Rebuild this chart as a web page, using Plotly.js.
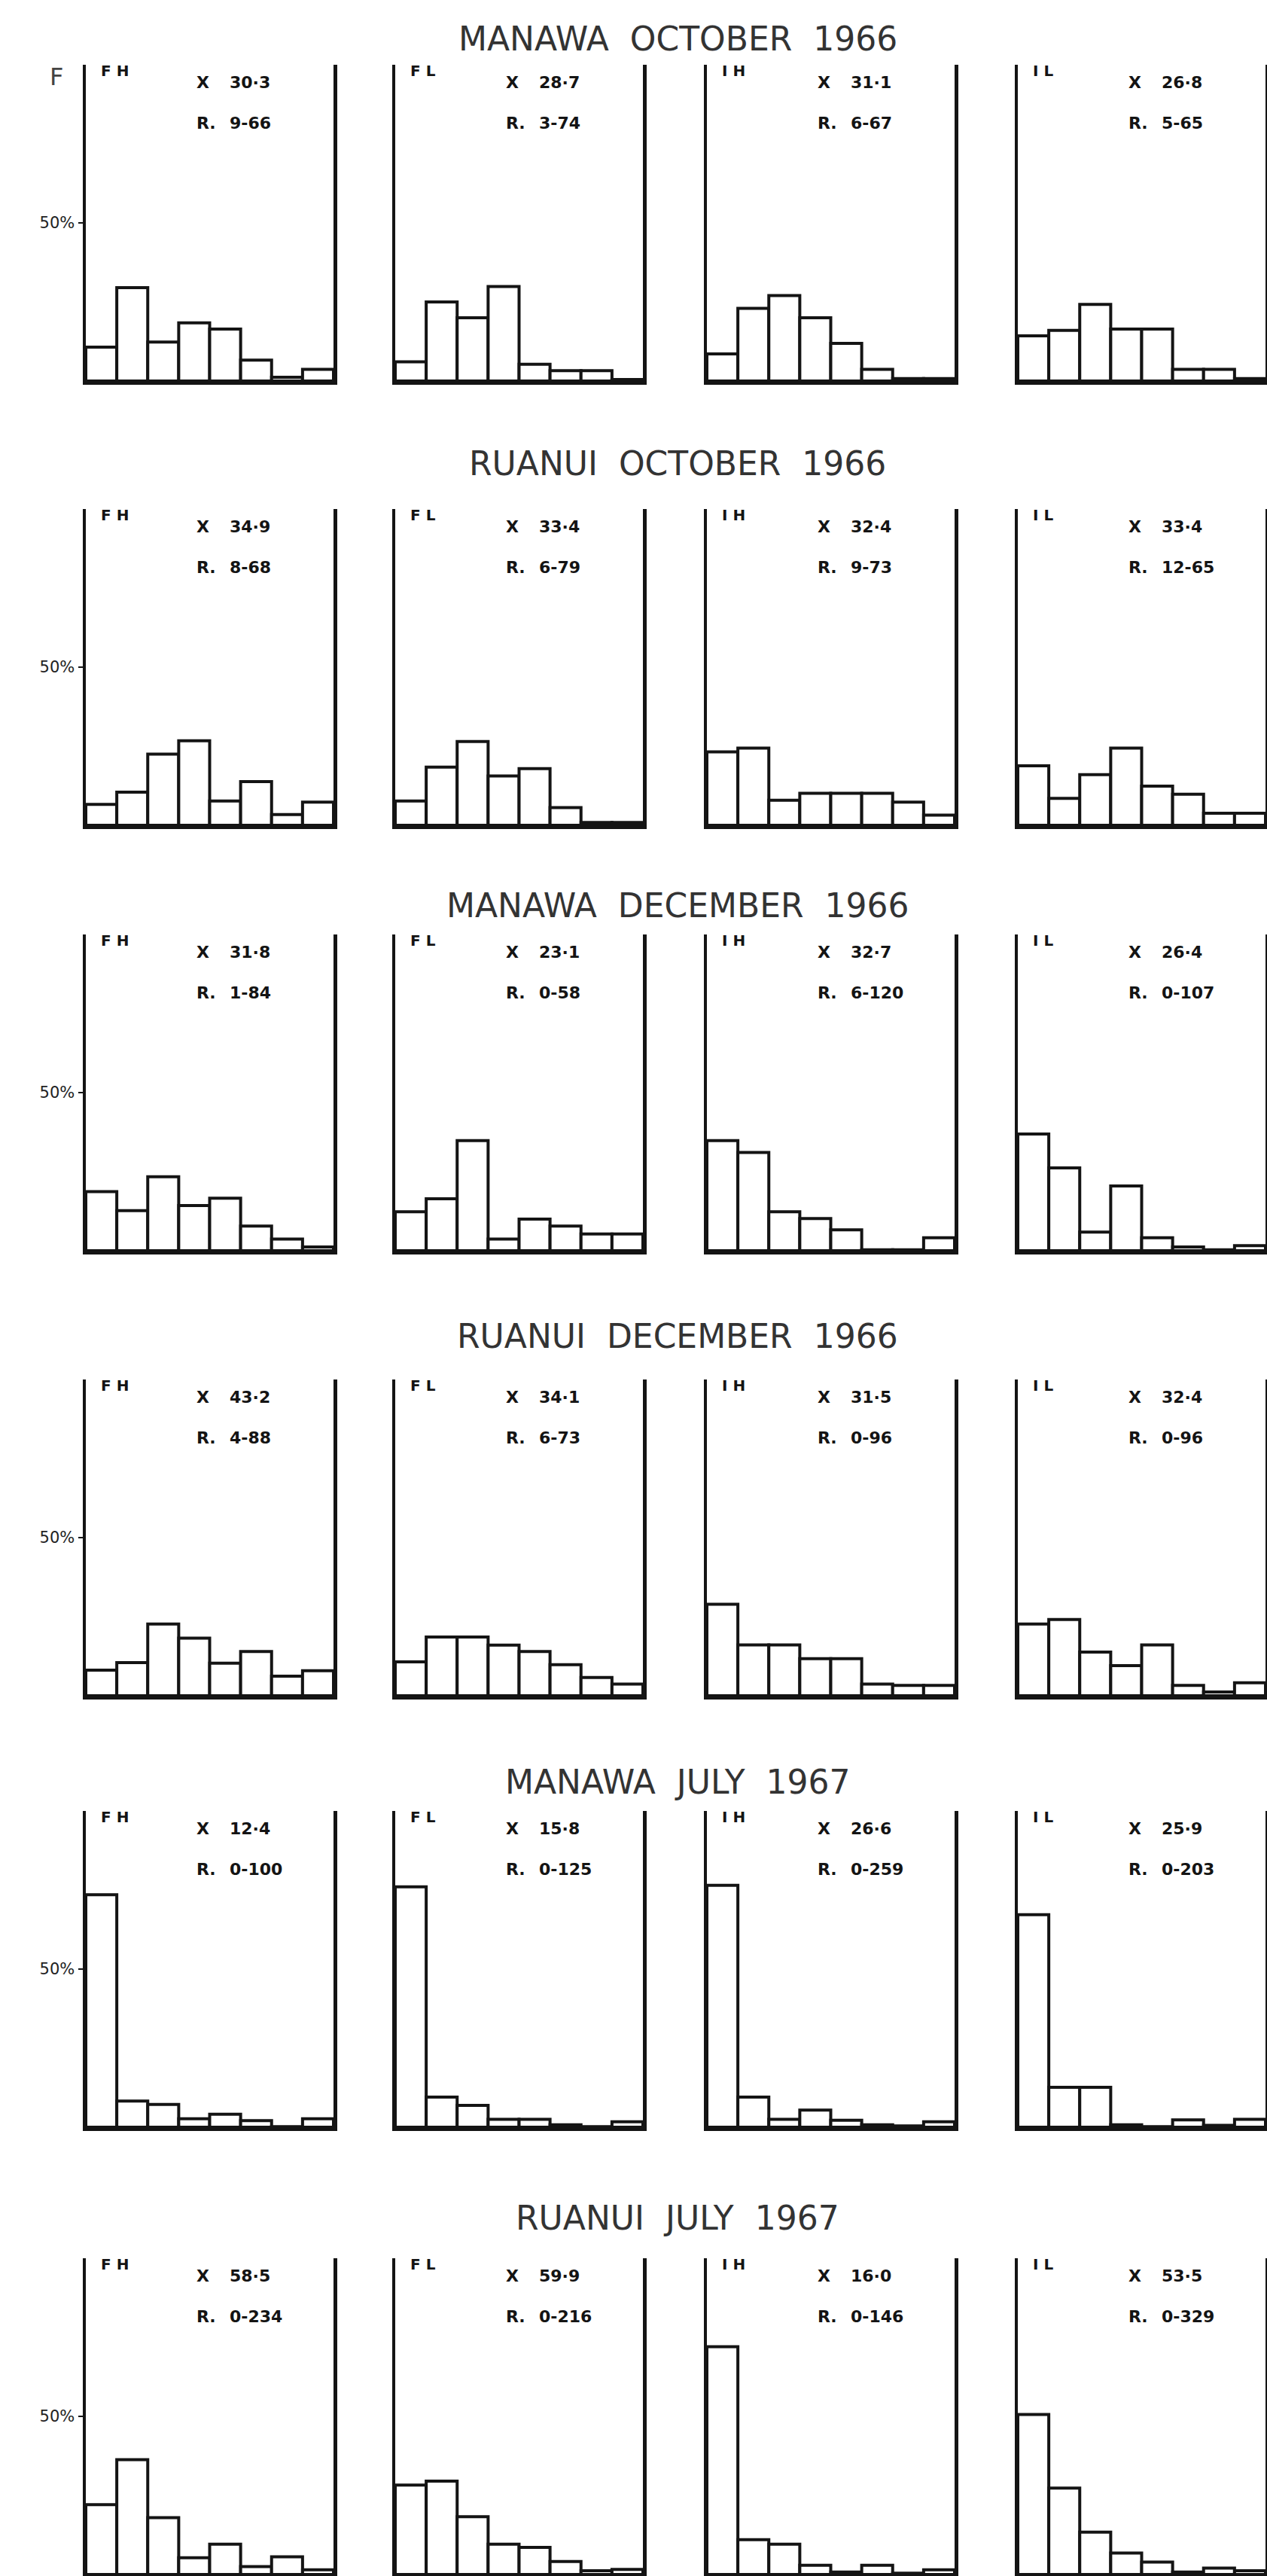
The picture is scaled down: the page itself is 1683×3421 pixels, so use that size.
<!DOCTYPE html>
<html>
<head>
<meta charset="utf-8">
<script src="https://cdn.plot.ly/plotly-3.0.1.min.js"></script>
<style>
  html, body { margin: 0; padding: 0; background: #ffffff; }
  #chart { width: 1683px; height: 3421px; }
</style>
</head>
<body>
<div id="chart"></div>
<script>
// ---------------- DATA ----------------
const sizeClasses = [1, 2, 3, 4, 5, 6, 7, 8];
const panelCodes = ['FH', 'FL', 'IH', 'IL'];
const rowTitles = [
  'MANAWA\u00a0\u00a0OCTOBER\u00a0\u00a01966',
  'RUANUI\u00a0\u00a0OCTOBER\u00a0\u00a01966',
  'MANAWA\u00a0\u00a0DECEMBER\u00a0\u00a01966',
  'RUANUI\u00a0\u00a0DECEMBER\u00a0\u00a01966',
  'MANAWA\u00a0\u00a0JULY\u00a0\u00a01967',
  'RUANUI\u00a0\u00a0JULY\u00a0\u00a01967'
];

// percentage frequency per size class (estimated from the figure)
const manawaOct66_FH = [10.7, 29.5, 12.3, 18.4, 16.4, 6.6, 1.2, 3.7];
const manawaOct66_FL = [6.1, 25.0, 20.0, 29.9, 5.3, 3.3, 3.3, 0.5];
const manawaOct66_IH = [8.6, 23.0, 27.0, 20.0, 11.9, 3.7, 0.8, 0.8];
const manawaOct66_IL = [14.3, 16.0, 24.2, 16.4, 16.4, 3.7, 3.7, 0.8];

const ruanuiOct66_FH = [6.6, 10.5, 22.5, 26.7, 7.7, 13.8, 3.4, 7.3];
const ruanuiOct66_FL = [7.7, 18.4, 26.5, 15.6, 17.9, 5.6, 0.9, 0.9];
const ruanuiOct66_IH = [23.2, 24.4, 7.9, 10.1, 10.1, 10.1, 7.3, 3.2];
const ruanuiOct66_IL = [18.8, 8.5, 16.0, 24.4, 12.4, 9.8, 3.8, 3.8];

const manawaDec66_FH = [18.7, 12.7, 23.4, 14.3, 16.6, 7.8, 3.7, 1.2];
const manawaDec66_FL = [12.3, 16.4, 34.8, 3.7, 10.0, 7.8, 5.3, 5.3];
const manawaDec66_IH = [34.8, 31.1, 12.3, 10.2, 6.6, 0.3, 0.3, 4.1];
const manawaDec66_IL = [36.9, 26.2, 5.9, 20.5, 4.1, 1.2, 0.3, 1.6];

const ruanuiDec66_FH = [8.1, 10.5, 22.7, 18.2, 10.3, 14.0, 6.2, 7.9];
const ruanuiDec66_FL = [10.7, 18.6, 18.6, 16.0, 14.0, 9.8, 5.8, 3.7];
const ruanuiDec66_IH = [28.9, 16.1, 16.1, 11.7, 11.7, 3.7, 3.3, 3.3];
const ruanuiDec66_IL = [22.7, 24.1, 13.8, 9.5, 16.1, 3.3, 1.2, 4.1];

const manawaJul67_FH = [73.5, 8.3, 7.2, 2.7, 4.1, 2.1, 0.2, 2.7];
const manawaJul67_FL = [76.0, 9.5, 6.9, 2.5, 2.5, 0.8, 0.2, 1.7];
const manawaJul67_IH = [76.5, 9.5, 2.5, 5.4, 2.2, 0.8, 0.4, 1.7];
const manawaJul67_IL = [67.2, 12.6, 12.6, 0.8, 0.2, 2.3, 0.6, 2.5];

const ruanuiJul67_FH = [22.1, 36.3, 18.0, 5.3, 9.6, 2.5, 5.6, 1.5];
const ruanuiJul67_FL = [28.3, 29.5, 18.3, 9.6, 8.6, 4.1, 1.2, 1.6];
const ruanuiJul67_IH = [72.0, 11.0, 9.6, 2.9, 0.8, 2.9, 0.4, 1.5];
const ruanuiJul67_IL = [50.6, 27.3, 13.4, 6.8, 3.9, 0.8, 2.0, 1.2];

// means (X) and ranges (R) printed in each panel
const meansManawaOct66 = ['30·3', '28·7', '31·1', '26·8'];
const meansRuanuiOct66 = ['34·9', '33·4', '32·4', '33·4'];
const meansManawaDec66 = ['31·8', '23·1', '32·7', '26·4'];
const meansRuanuiDec66 = ['43·2', '34·1', '31·5', '32·4'];
const meansManawaJul67 = ['12·4', '15·8', '26·6', '25·9'];
const meansRuanuiJul67 = ['58·5', '59·9', '16·0', '53·5'];

const rangesManawaOct66 = ['9-66', '3-74', '6-67', '5-65'];
const rangesRuanuiOct66 = ['8-68', '6-79', '9-73', '12-65'];
const rangesManawaDec66 = ['1-84', '0-58', '6-120', '0-107'];
const rangesRuanuiDec66 = ['4-88', '6-73', '0-96', '0-96'];
const rangesManawaJul67 = ['0-100', '0-125', '0-259', '0-203'];
const rangesRuanuiJul67 = ['0-234', '0-216', '0-146', '0-329'];

// ---------------- TABLES BUILT FROM THE ARRAYS ----------------
const freqTable = [
  [manawaOct66_FH, manawaOct66_FL, manawaOct66_IH, manawaOct66_IL],
  [ruanuiOct66_FH, ruanuiOct66_FL, ruanuiOct66_IH, ruanuiOct66_IL],
  [manawaDec66_FH, manawaDec66_FL, manawaDec66_IH, manawaDec66_IL],
  [ruanuiDec66_FH, ruanuiDec66_FL, ruanuiDec66_IH, ruanuiDec66_IL],
  [manawaJul67_FH, manawaJul67_FL, manawaJul67_IH, manawaJul67_IL],
  [ruanuiJul67_FH, ruanuiJul67_FL, ruanuiJul67_IH, ruanuiJul67_IL]
];
const meanTable = [meansManawaOct66, meansRuanuiOct66, meansManawaDec66,
                   meansRuanuiDec66, meansManawaJul67, meansRuanuiJul67];
const rangeTable = [rangesManawaOct66, rangesRuanuiOct66, rangesManawaDec66,
                    rangesRuanuiDec66, rangesManawaJul67, rangesRuanuiJul67];

// ---------------- LAYOUT GEOMETRY (pixels) ----------------
const W = 1683, H = 3421;
const ROW_BOTTOM = [506, 1096, 1661, 2252, 2825, 3419];
const PANEL_H = 420;
const COL_LEFT = [114, 525, 939, 1352];
const PANEL_W = 329;
const TITLE_Y = [51, 616, 1203, 1775, 2366, 2945];
const TITLE_X = 900;

const INK = '#141414';
const FONT = 'DejaVu Sans, Liberation Sans, sans-serif';

const data = [];
const layout = {
  width: W, height: H,
  margin: {l: 0, r: 0, t: 0, b: 0, pad: 0},
  paper_bgcolor: '#ffffff',
  plot_bgcolor: 'rgba(0,0,0,0)',
  showlegend: false,
  bargap: 0,
  annotations: []
};

for (let r = 0; r < 6; r++) {
  const y0 = 1 - ROW_BOTTOM[r] / H;
  const y1 = 1 - (ROW_BOTTOM[r] - PANEL_H) / H;
  layout.annotations.push({
    xref: 'paper', yref: 'paper',
    x: TITLE_X / W, y: 1 - TITLE_Y[r] / H,
    xanchor: 'center', yanchor: 'middle',
    text: rowTitles[r], showarrow: false,
    font: {family: FONT, size: 44, color: '#333333'}
  });
  for (let c = 0; c < 4; c++) {
    const k = r * 4 + c + 1;
    const sfx = k === 1 ? '' : String(k);
    const x0 = COL_LEFT[c] / W;
    const x1 = (COL_LEFT[c] + PANEL_W) / W;
    data.push({
      type: 'bar',
      x: sizeClasses,
      y: freqTable[r][c],
      xaxis: 'x' + sfx, yaxis: 'y' + sfx,
      marker: {color: '#ffffff', line: {color: INK, width: 4}},
      hoverinfo: 'y'
    });
    layout['xaxis' + sfx] = {
      domain: [x0, x1], anchor: 'y' + sfx,
      range: [0.5, 8.5], fixedrange: true,
      showline: true, linecolor: INK, linewidth: 5,
      showgrid: false, zeroline: false,
      ticks: '', showticklabels: false
    };
    const firstCol = c === 0;
    layout['yaxis' + sfx] = {
      domain: [y0, y1], anchor: 'x' + sfx,
      range: [0, 100], fixedrange: true,
      showline: true, mirror: true, linecolor: INK, linewidth: 4.5,
      showgrid: false, zeroline: false,
      tickmode: 'array', tickvals: [50], ticktext: ['50%'],
      ticks: firstCol ? 'outside' : '', ticklen: 6, tickwidth: 2.5, tickcolor: INK,
      showticklabels: firstCol,
      tickfont: {family: FONT, size: 21, color: '#222'}
    };
    const xd = 'x' + sfx + ' domain', yd = 'y' + sfx + ' domain';
    const statFont = {family: FONT, size: 22, color: INK, weight: 'bold'};
    layout.annotations.push(
      {xref: xd, yref: yd, x: 0.055, y: 0.982, xanchor: 'left', yanchor: 'middle',
       text: panelCodes[c].split('').join('\u00a0'), showarrow: false,
       font: {family: FONT, size: 20, color: INK, weight: 'bold'}},
      {xref: xd, yref: yd, x: 0.44, y: 0.945, xanchor: 'left', yanchor: 'middle',
       text: 'X', showarrow: false, font: statFont},
      {xref: xd, yref: yd, x: 0.575, y: 0.945, xanchor: 'left', yanchor: 'middle',
       text: meanTable[r][c], showarrow: false, font: statFont},
      {xref: xd, yref: yd, x: 0.44, y: 0.815, xanchor: 'left', yanchor: 'middle',
       text: 'R.', showarrow: false, font: statFont},
      {xref: xd, yref: yd, x: 0.575, y: 0.815, xanchor: 'left', yanchor: 'middle',
       text: rangeTable[r][c], showarrow: false, font: statFont}
    );
  }
}

// stray "F" (frequency) mark at top-left of the first panel
layout.annotations.push({
  xref: 'paper', yref: 'paper', x: 75 / W, y: 1 - 102 / H,
  xanchor: 'center', yanchor: 'middle', text: 'F', showarrow: false,
  font: {family: FONT, size: 32, color: '#444'}
});

Plotly.newPlot('chart', data, layout, {staticPlot: true, displayModeBar: false});
</script>
</body>
</html>
